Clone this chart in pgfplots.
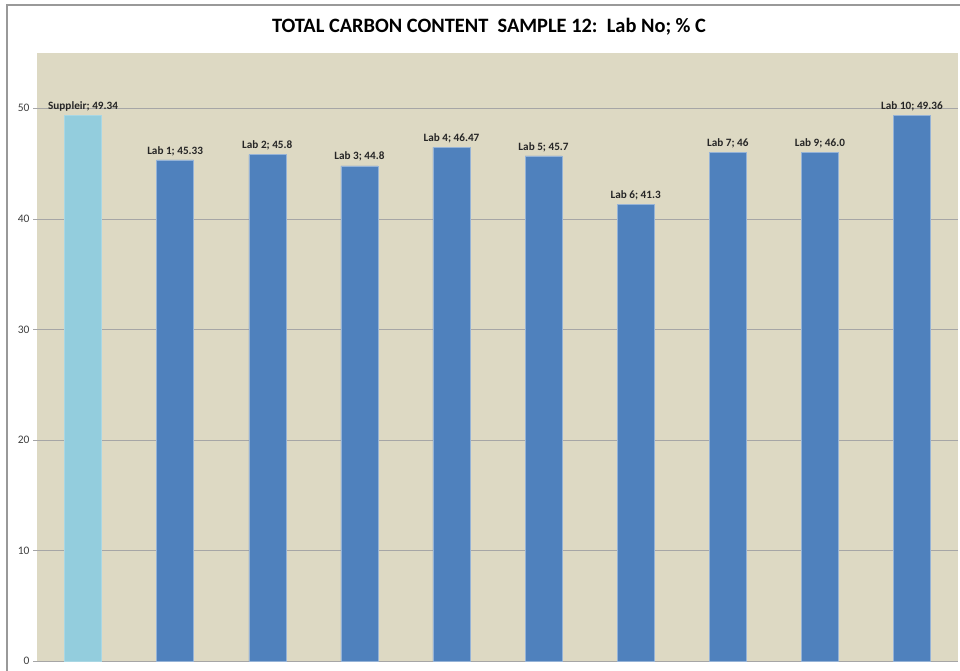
\documentclass[border=0pt]{standalone}
\usepackage{pgfplots}
\pgfplotsset{compat=1.18}
\usepackage{fontspec}
\setmainfont{Carlito}
\chardef\semi=59
\definecolor{beige}{HTML}{DDD9C3}
\definecolor{lblue}{HTML}{93CDDD}
\definecolor{dblue}{HTML}{4F81BD}
\definecolor{gridc}{HTML}{A6A6A6}
\definecolor{tickc}{HTML}{404040}
\begin{document}
\begin{tikzpicture}[x=1pt,y=1pt]
\useasboundingbox (0,0) rectangle (960,670);
\fill[white] (0,0) rectangle (960,670);
\draw[gray!80,line width=1.2pt] (7,-20) -- (7,665) -- (980,665);
\node[font=\fontsize{20.4}{22}\selectfont\bfseries] at (489,643) {TOTAL CARBON CONTENT\ \ SAMPLE 12:\ \ Lab No; \% C};
\begin{axis}[
  at={(37pt,9pt)}, anchor=south west,
  scale only axis, width=921pt, height=608pt,
  xmin=-0.5, xmax=9.5, ymin=0, ymax=55,
  axis background/.style={fill=beige},
  axis x line*=bottom, axis y line*=left,
  y axis line style={draw=none},
  x axis line style={draw=gridc,line width=0.8pt},
  xtick=\empty,
  ytick={0,10,20,30,40,50},
  ymajorgrids, grid style={draw=gridc,line width=0.6pt},
  major tick length=4pt,
  ytick style={draw=gridc,line width=0.6pt},
  tick align=outside,
  yticklabel style={font=\fontsize{11.5}{12}\selectfont, text=tickc},
  /pgf/number format/assume math mode=true,
  every node near coord/.style={font=\fontsize{11.2}{12}\selectfont\bfseries, text=black!85, inner sep=1pt, yshift=3pt},
  point meta=explicit symbolic,
  nodes near coords,
]
\addplot[ybar, bar width=37pt, bar shift=0pt, fill=lblue, draw=lblue!80!white, line width=0.5pt] coordinates {
  (0,49.34) [Suppleir\semi{} 49.34]
};
\addplot[ybar, bar width=37pt, bar shift=0pt, fill=dblue, draw=dblue!60!white, line width=0.5pt] coordinates {
  (1,45.33) [Lab 1\semi{} 45.33]
  (2,45.8) [Lab 2\semi{} 45.8]
  (3,44.8) [Lab 3\semi{} 44.8]
  (4,46.47) [Lab 4\semi{} 46.47]
  (5,45.7) [Lab 5\semi{} 45.7]
  (6,41.3) [Lab 6\semi{} 41.3]
  (7,46) [Lab 7\semi{} 46]
  (8,46.0) [Lab 9\semi{} 46.0]
  (9,49.36) [Lab 10\semi{} 49.36]
};
\end{axis}
\end{tikzpicture}
\end{document}
